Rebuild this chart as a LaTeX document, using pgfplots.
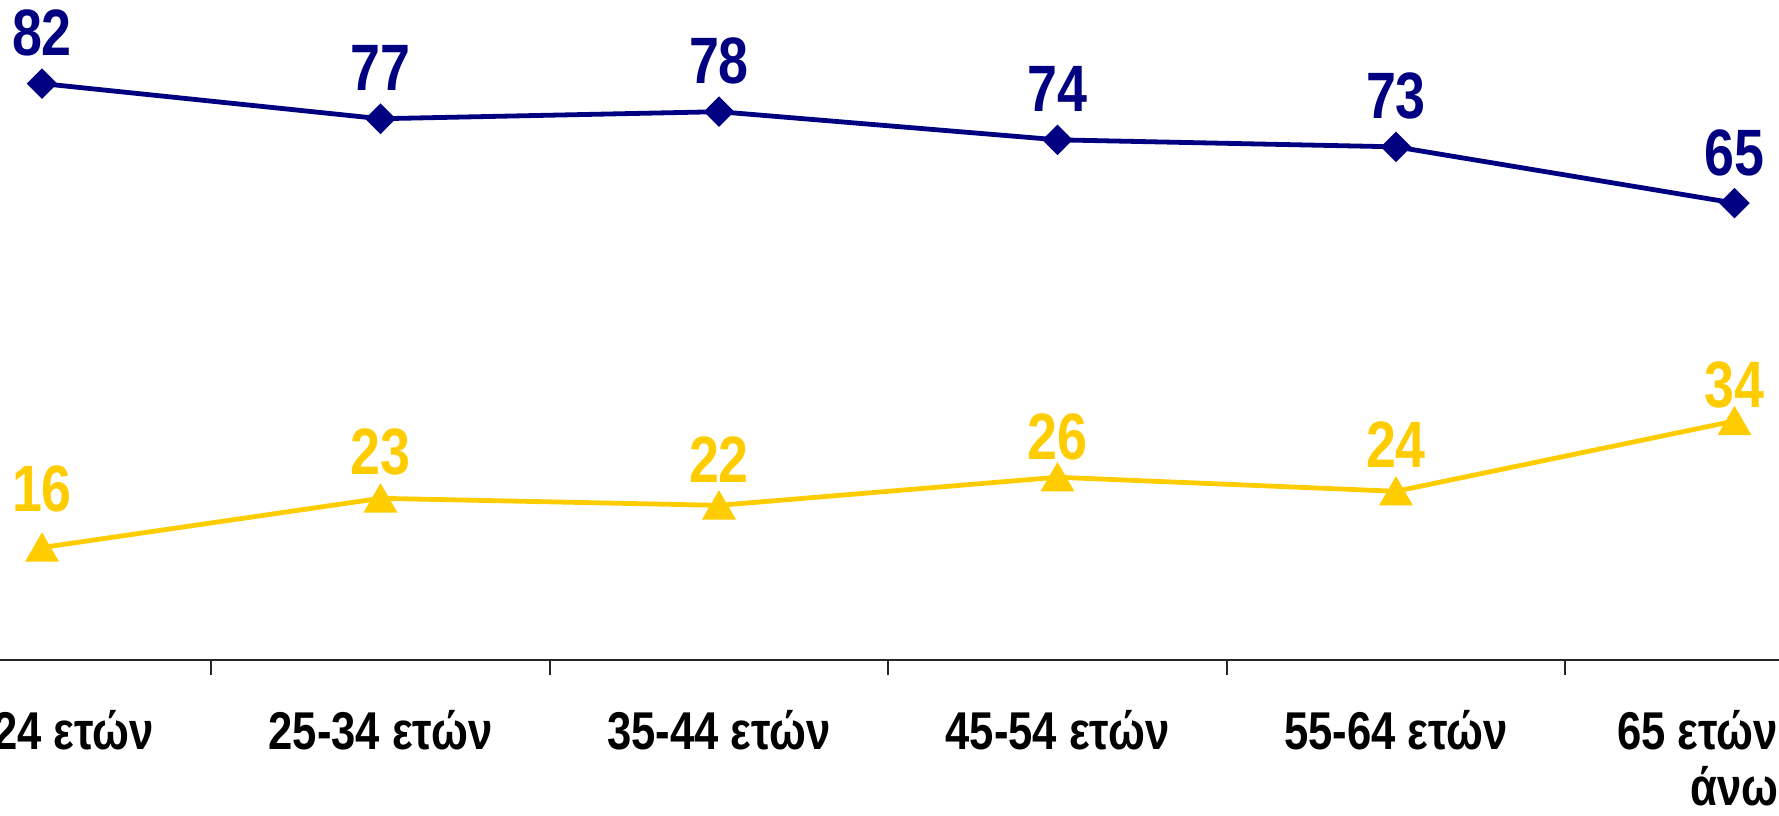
\documentclass[border=0pt]{standalone}
\usepackage{fontspec}
\newfontfamily\narrow{Liberation Sans}[FakeStretch=0.82]
\usepackage{pgfplots}
\usepackage{pgfplotstable}
\pgfplotsset{compat=1.18}
\definecolor{navyline}{HTML}{000080}
\definecolor{goldline}{HTML}{FFCC00}

% x = age group (0..5), y = share, dy = label lift above the point
\pgfplotstableread{
x y dy
0 82 7
1 77 7
2 78 7
3 74 7
4 73 7
5 65 7
}\navydata
\pgfplotstableread{
x y dy
0 16 10
1 23 7
2 22 6.75
3 26 5.5
4 24 7
5 34 4.5
}\golddata

\begin{document}
\begin{tikzpicture}
% the reference is a crop of a wider chart: keep only the visible window
\useasboundingbox (31.8125pt,-38.75pt) rectangle (476.5625pt,165pt);
\clip (31.8125pt,-38.75pt) rectangle (476.5625pt,165pt);
\begin{axis}[
    at={(0,0)}, anchor=south west,
    scale only axis,
    width=507.75pt, height=165.2pt,
    xmin=-0.5, xmax=5.5,
    ymin=0, ymax=94,
    axis x line*=bottom,
    axis y line=none,
    x axis line style={-, line width=0.5pt, black!85},
    xtick={0,1,2,3,4,5},
    xticklabels={15-24 ετών, 25-34 ετών, 35-44 ετών, 45-54 ετών, 55-64 ετών, {65 ετών και\\άνω}},
    major tick length=0pt,
    minor xtick={0.5,1.5,2.5,3.5,4.5},
    minor tick length=3.75pt,
    tick align=outside,
    minor tick style={line width=0.5pt, black!85},
    xticklabel style={font=\narrow\bfseries\fontsize{13.3}{14}\selectfont,
        align=center, anchor=north, inner sep=0pt, yshift=-12.5pt},
    clip=false,
    nodes near coords,
    /pgf/number format/assume math mode=true,
    visualization depends on={\thisrow{dy}\as\liftup},
    every node near coord/.append style={
        font=\narrow\bfseries\fontsize{16.4}{18}\selectfont,
        anchor=base, inner sep=0pt, yshift=\liftup pt},
]
\addplot[navyline, line width=1.2pt,
    mark=square*, mark size=2.1pt, mark options={rotate=45},
    every node near coord/.append style={navyline}]
table[x=x, y=y] {\navydata};
\addplot[goldline, line width=1.2pt,
    mark=triangle*, mark size=3.7pt, mark options={yshift=-1.1pt},
    every node near coord/.append style={goldline}]
table[x=x, y=y] {\golddata};
\end{axis}
\end{tikzpicture}
\end{document}
